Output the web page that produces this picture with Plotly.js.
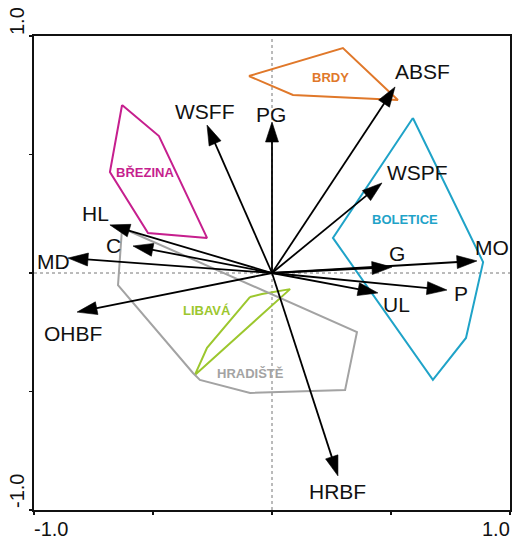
<!DOCTYPE html>
<html>
<head>
<meta charset="utf-8">
<script src="https://cdn.plot.ly/plotly-3.0.1.min.js"></script>
<style>
  html, body { margin: 0; padding: 0; background: #fff; }
  #chart { width: 513px; height: 543px; }
</style>
</head>
<body>
<div id="chart"></div>
<script>
// Environmental variables (ordination loadings on axes 1 and 2)
const varNames = ['ABSF', 'PG', 'WSFF', 'WSPF', 'MO', 'G', 'P', 'UL', 'HRBF', 'OHBF', 'MD', 'C', 'HL'];
const varAxis1 = [0.517, 0.000, -0.273, 0.462, 0.861, 0.504, 0.735, 0.445, 0.277, -0.819, -0.857, -0.584, -0.681];
const varAxis2 = [0.785, 0.637, 0.624, 0.380, 0.051, 0.025, -0.072, -0.084, -0.856, -0.165, 0.063, 0.114, 0.203];

// Site groups: envelopes of sample scores
const groupNames = ['BRDY', 'BŘEZINA', 'BOLETICE', 'LIBAVÁ', 'HRADIŠTĚ'];
const brdyX = [-0.097, 0.298, 0.529, 0.088];
const brdyY = [0.831, 0.949, 0.730, 0.751];
const brezinaX = [-0.630, -0.475, -0.273, -0.521, -0.681];
const brezinaY = [0.709, 0.578, 0.148, 0.169, 0.426];
const boleticeX = [0.592, 0.887, 0.815, 0.676, 0.256];
const boleticeY = [0.654, 0.046, -0.274, -0.451, 0.148];
const libavaX = [-0.092, -0.042, 0.076, -0.324, -0.273];
const libavaY = [-0.101, -0.089, -0.068, -0.430, -0.316];
const hradisteX = [-0.630, -0.647, -0.332, -0.303, -0.092, 0.307, 0.357];
const hradisteY = [0.190, -0.051, -0.422, -0.451, -0.506, -0.494, -0.249];

// Axis tick labels
const tickLabels = ['-1.0', '1.0'];

// ---- styling ----
const FONT = 'Liberation Sans, Arial, sans-serif';
const groupColors = ['#E0782A', '#C61F8E', '#1FA3C8', '#9CC72E', '#A3A3A3'];
const groupXs = [brdyX, brezinaX, boleticeX, libavaX, hradisteX];
const groupYs = [brdyY, brezinaY, boleticeY, libavaY, hradisteY];
// where each group name sits (data units)
const groupLabelX = [0.244, -0.534, 0.559, -0.273, -0.092];
const groupLabelY = [0.827, 0.422, 0.224, -0.160, -0.426];
// label offset from each arrow tip, in pixels (right, up)
const labelShiftX = [27, -1, -3, 36, 15, 5, 14, 19, 0, -4, -15, -20, -14];
const labelShiftY = [15, 8, 14, 10, 13, 14, -3, -12, -16, -21, -3, 0, 11];

const traces = [];

// group envelopes
groupNames.forEach((g, i) => {
  const xs = groupXs[i].concat([groupXs[i][0]]);
  const ys = groupYs[i].concat([groupYs[i][0]]);
  traces.push({
    type: 'scatter', mode: 'lines', x: xs, y: ys,
    line: { color: groupColors[i], width: 2 },
    hoverinfo: 'skip', showlegend: false
  });
});

// variable arrows from the origin (head only on the tip point)
varNames.forEach((v, i) => {
  traces.push({
    type: 'scatter', mode: 'lines+markers',
    x: [0, varAxis1[i]], y: [0, varAxis2[i]],
    line: { color: '#000', width: 1.8 },
    marker: { symbol: 'arrow', angleref: 'previous', size: [0, 21], color: '#000',
              opacity: 1, line: { color: '#000', width: 0.6 } },
    name: v, showlegend: false
  });
});

const annotations = [];
varNames.forEach((v, i) => {
  annotations.push({
    x: varAxis1[i], y: varAxis2[i], xref: 'x', yref: 'y',
    text: v, showarrow: false,
    xshift: labelShiftX[i], yshift: labelShiftY[i],
    xanchor: 'center', yanchor: 'middle',
    font: { family: FONT, size: 21, color: '#111' }
  });
});
groupNames.forEach((g, i) => {
  annotations.push({
    x: groupLabelX[i], y: groupLabelY[i], xref: 'x', yref: 'y',
    text: '<b>' + g + '</b>', showarrow: false,
    xanchor: 'center', yanchor: 'middle',
    font: { family: FONT, size: 13, color: groupColors[i] }
  });
});
// axis end labels
const tickFont = { family: FONT, size: 20, color: '#111' };
annotations.push(
  { x: -1, y: -1, xref: 'x', yref: 'y', text: tickLabels[0], showarrow: false,
    xanchor: 'left', yanchor: 'middle', xshift: -2, yshift: -19, font: tickFont },
  { x: 1, y: -1, xref: 'x', yref: 'y', text: tickLabels[1], showarrow: false,
    xanchor: 'right', yanchor: 'middle', xshift: 2, yshift: -19, font: tickFont },
  { x: -1, y: 1, xref: 'x', yref: 'y', text: tickLabels[1], showarrow: false, textangle: -90,
    xanchor: 'center', yanchor: 'middle', xshift: -17, yshift: 15, font: tickFont },
  { x: -1, y: -1, xref: 'x', yref: 'y', text: tickLabels[0], showarrow: false, textangle: -90,
    xanchor: 'center', yanchor: 'middle', xshift: -17, yshift: 19, font: tickFont }
);

const axisStyle = {
  range: [-1, 1], showgrid: false, zeroline: false,
  showline: true, mirror: true, linecolor: '#111', linewidth: 2,
  ticks: 'outside', ticklen: 3, tickwidth: 1.5, tickcolor: '#111',
  tickvals: [-1, -0.5, 0, 0.5, 1], showticklabels: false, fixedrange: true
};

const layout = {
  width: 513, height: 543,
  margin: { l: 34, r: 3, t: 36, b: 33, pad: 0 },
  paper_bgcolor: '#fff', plot_bgcolor: '#fff',
  xaxis: Object.assign({}, axisStyle),
  yaxis: Object.assign({}, axisStyle),
  showlegend: false,
  annotations: annotations,
  shapes: [
    { type: 'line', xref: 'x', yref: 'y', x0: 0, x1: 0, y0: -1, y1: 1, layer: 'below',
      line: { color: '#777', width: 1, dash: 'dot' } },
    { type: 'line', xref: 'x', yref: 'y', x0: -1, x1: 1, y0: 0, y1: 0, layer: 'below',
      line: { color: '#777', width: 1, dash: 'dot' } }
  ]
};

Plotly.newPlot('chart', traces, layout, { staticPlot: true, displayModeBar: false });
</script>
</body>
</html>
